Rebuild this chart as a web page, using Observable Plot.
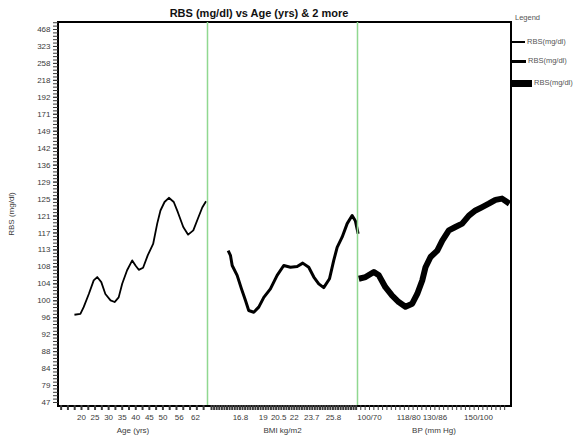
<!DOCTYPE html>
<html><head><meta charset="utf-8">
<script src="https://cdn.jsdelivr.net/npm/d3@7"></script>
<script src="https://cdn.jsdelivr.net/npm/@observablehq/plot@0.6"></script>
<style>
body{margin:0;background:#fff;font-family:"Liberation Sans",Arial,sans-serif}
#wrap{position:relative;width:583px;height:435px;overflow:hidden;background:#fff}
#wrap svg{position:absolute;top:0;overflow:visible;background:transparent}
#frame{position:absolute;left:57px;top:21px;width:451px;height:382px;border:2px solid #000}
#title{position:absolute;left:0;width:518px;top:7px;text-align:center;font-weight:bold;font-size:11px;color:#111}
.lg{position:absolute;font-size:7.5px;color:#555;white-space:nowrap}
.sw{position:absolute;background:#000}
</style></head><body><div id="wrap"><div id="frame"></div><div id="title">RBS (mg/dl) vs Age (yrs) &amp; 2 more</div></div>
<script>
// Y axis tick labels (quantile-style axis, evenly spaced)
const yTickValues = [47,79,84,88,92,96,100,104,108,113,117,121,125,129,136,142,149,171,192,218,258,323,468];
// X tick labels per panel
const ageTicks = [20,25,30,35,40,45,50,56,62];
const bmiTicks = [16.8,19,20.5,22,23.7,25.8];
const bpTicks = [100,118,130,150];
const bpTickLabels = ["100/70","118/80","130/86","150/100"];
// Series
const ageX = [17.4,19.6,20.8,22.7,24.5,25.8,27.3,28.8,30.7,32.2,33.7,35.0,36.8,38.7,39.9,41.1,42.7,44.4,46.4,47.9,49.1,50.6,52.2,54.0,55.5,57.5,59.3,61.2,62.9,64.5,65.9];
const ageRBS = [96.7,96.9,98.5,101.6,104.8,105.6,104.4,101.6,100.1,99.7,100.8,104.0,107.2,109.9,108.4,107.3,107.8,111.4,114.4,119.2,122.3,124.3,125.3,124.3,121.9,118.4,116.6,117.6,120.4,123.0,124.5];
const bmiX = [15.61,15.83,16.0,16.48,16.9,17.28,17.6,18.09,18.57,19.06,19.7,20.35,20.99,21.64,22.29,22.83,23.41,23.9,24.38,24.86,25.42,25.83,26.16,26.64,27.13,27.61,27.93,28.19];
const bmiRBS = [112.8,111.4,108.4,106.0,102.8,100.1,97.7,97.3,98.5,100.8,102.8,106.0,108.4,107.9,108.1,109.1,107.9,105.6,104.0,103.1,105.2,109.9,113.6,116.0,119.2,121.1,119.8,116.8];
const bpX = [95.1,98.2,102.0,104.3,107.3,110.4,113.4,116.5,119.6,121.9,124.2,125.7,128.0,131.1,133.4,136.4,139.4,142.5,145.6,148.6,151.7,154.7,157.8,160.8,163.1,164.2];
const bpRBS = [105.2,105.6,106.8,106.0,103.2,101.2,99.7,98.6,99.3,101.6,104.8,107.9,110.9,112.8,115.2,117.6,118.4,119.2,121.1,122.3,123.1,123.9,124.8,125.1,124.3,123.9];
const legendLabels = ["RBS(mg/dl)","RBS(mg/dl)","RBS(mg/dl)"];

const yRank = d3.scaleLinear().domain(yTickValues).range(d3.range(yTickValues.length));
const yDomain = [-0.177, 22.413];
const H = 435, MT = 22, MB = 30;
const wrap = document.getElementById("wrap");
const style = {fontFamily:"Liberation Sans, Arial, sans-serif", fontSize:"8px", color:"#3a3a3a", background:"transparent", overflow:"visible"};

function panel({left, width, marginLeft=0, xDomain, xs, ys, sw, ticks, fmt, minor, minorW, label, yAxis=false, sep=false}) {
  const marks = [];
  if (yAxis) {
    marks.push(Plot.axisY({ticks: d3.range(0, 22.41, 0.2), tickSize: 5, tickFormat: () => "", strokeWidth: 1, label: null}));
    marks.push(Plot.axisY({ticks: d3.range(yTickValues.length), tickSize: 5, tickPadding: 3, tickFormat: i => yTickValues[i],
      label: "RBS (mg/dl)", labelAnchor: "center", labelOffset: 50, labelArrow: "none"}));
  }
  if (sep) marks.push(Plot.ruleX([xDomain[0]], {stroke: "#90d890", strokeWidth: 1.5}));
  marks.push(Plot.axisX({ticks: minor, tickSize: 5, tickFormat: () => "", strokeWidth: minorW, label: null}));
  marks.push(Plot.axisX({ticks, tickSize: 0, tickPadding: 9, tickFormat: fmt, label, labelAnchor: "center", labelOffset: 27, labelArrow: "none"}));
  marks.push(Plot.line(xs.map((x, i) => ({x, y: yRank(ys[i])})), {x: "x", y: "y", stroke: "#000", strokeWidth: sw, strokeLinejoin: "round", strokeLinecap: "butt"}));
  const svg = Plot.plot({
    width: marginLeft + width, height: H,
    marginLeft, marginRight: 0, marginTop: MT, marginBottom: MB,
    x: {domain: xDomain},
    y: {domain: yDomain, axis: yAxis ? undefined : null},
    style,
    marks
  });
  svg.style.left = (left - marginLeft) + "px";
  wrap.appendChild(svg);
}

panel({left: 58, width: 149, marginLeft: 58, xDomain: [11.53, 66.43], xs: ageX, ys: ageRBS, sw: 1.8,
  ticks: ageTicks, fmt: d => d, minor: d3.range(12.5, 66, 2.5), minorW: 2, label: "Age (yrs)", yAxis: true});
panel({left: 207, width: 150, xDomain: [13.61, 28.13], xs: bmiX, ys: bmiRBS, sw: 3,
  ticks: bmiTicks, fmt: d => d, minor: d3.range(14, 28.1, 0.25), minorW: 2, label: "BMI kg/m2", sep: true});
panel({left: 357, width: 153, xDomain: [94.5, 164.68], xs: bpX, ys: bpRBS, sw: 6,
  ticks: bpTicks, fmt: v => bpTickLabels[bpTicks.indexOf(v)], minor: d3.range(96, 164, 2), minorW: 1, label: "BP (mm Hg)", sep: true});

// Legend
function add(cls, css, text) { const d = document.createElement("div"); d.className = cls; Object.assign(d.style, css); if (text) d.textContent = text; wrap.appendChild(d); }
add("lg", {left: "515px", top: "13px"}, "Legend");
const lgY = [42, 61, 83], lgW = [1.5, 3, 7], lgLen = [13, 14, 20];
legendLabels.forEach((t, i) => {
  add("sw", {left: "512px", top: (lgY[i] - lgW[i] / 2) + "px", width: lgLen[i] + "px", height: lgW[i] + "px"});
  add("lg", {left: (514 + lgLen[i]) + "px", top: (lgY[i] - 5) + "px"}, t);
});
</script></body></html>
